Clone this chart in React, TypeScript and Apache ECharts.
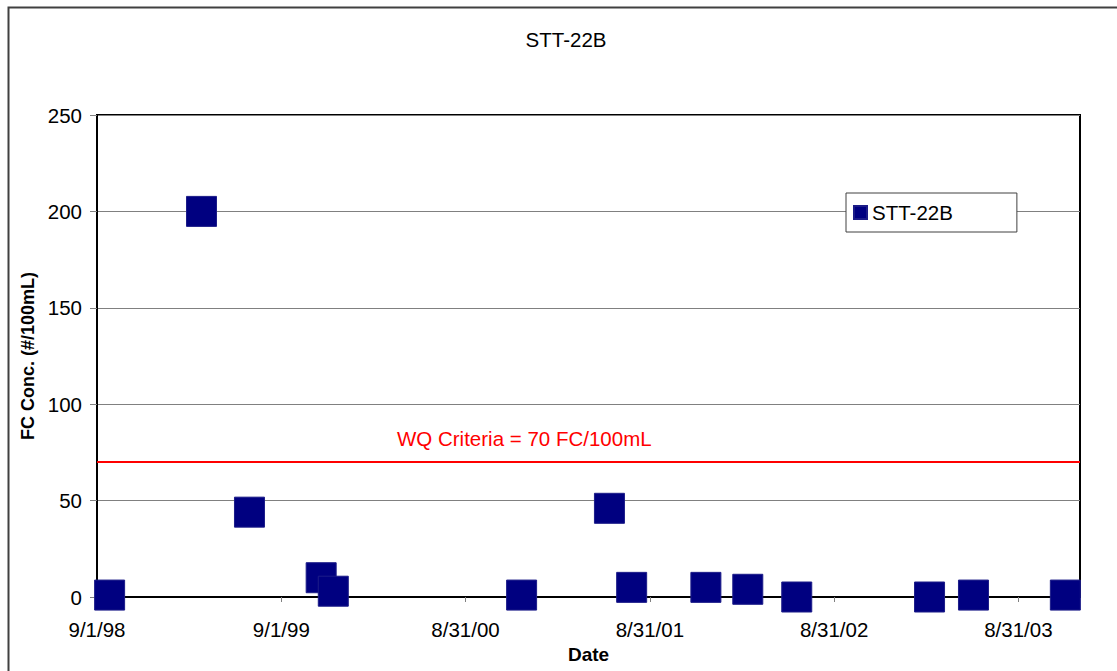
import React, { useEffect, useRef } from "react";
import * as echarts from "echarts";

const seriesName = "STT-22B";
const sampleDates = [
  "1998-09-26", "1999-03-27", "1999-06-30", "1999-11-19", "1999-12-13",
  "2000-12-20", "2001-06-12", "2001-07-26", "2001-12-20", "2002-03-13",
  "2002-06-18", "2003-03-08", "2003-06-03", "2003-12-02",
];
const fcValues = [1, 200, 44, 10, 3, 1, 46, 5, 5, 4, 0, 0, 1, 1];
const criteriaValue = 70;
const criteriaLabel = "WQ Criteria = 70 FC/100mL";
const axisStartDate = "1998-09-01";
const axisEndDate = "2003-12-31";
const tickStepDays = 365;
const yTicks = [0, 50, 100, 150, 200, 250];

const DAY = 86400000;
const toUTC = (s: string) => {
  const [y, m, d] = s.split("-").map(Number);
  return Date.UTC(y, m - 1, d);
};
const base = toUTC(axisStartDate);
const dayNum = (s: string) => Math.round((toUTC(s) - base) / DAY);
const fmt = (v: number) => {
  const d = new Date(base + v * DAY);
  return `${d.getUTCMonth() + 1}/${d.getUTCDate()}/${String(d.getUTCFullYear()).slice(2)}`;
};

const FONT = "'Liberation Sans', Arial, sans-serif";

export default function App() {
  const ref = useRef<HTMLDivElement>(null);
  useEffect(() => {
    if (!ref.current) return;
    const chart = echarts.init(ref.current, null, { renderer: "svg" });
    const data = sampleDates.map((d, i) => [dayNum(d), fcValues[i]]);
    chart.setOption({
      animation: false,
      backgroundColor: "#fff",
      textStyle: { fontFamily: FONT },
      title: {
        text: seriesName,
        left: 566,
        textAlign: "center",
        top: 29,
        padding: 0,
        textStyle: { fontSize: 20.5, fontWeight: "normal", color: "#000", fontFamily: FONT },
      },
      legend: {
        data: [seriesName],
        left: 846,
        top: 193,
        orient: "vertical",
        icon: "rect",
        itemWidth: 13,
        itemHeight: 13,
        itemGap: 8,
        padding: [9, 64, 9, 7],
        backgroundColor: "#fff",
        borderColor: "#404040",
        borderWidth: 1,
        borderRadius: 0,
        textStyle: { fontSize: 20.5, color: "#000", fontFamily: FONT },
      },
      grid: {
        left: 97,
        right: 37,
        top: 115,
        bottom: 74,
        show: true,
        borderColor: "#000",
        borderWidth: 2,
        backgroundColor: "transparent",
      },
      xAxis: {
        type: "value",
        min: 0,
        max: dayNum(axisEndDate),
        interval: tickStepDays,
        name: "Date",
        nameLocation: "middle",
        nameGap: 43,
        nameTextStyle: { fontSize: 19, fontWeight: "bold", color: "#000", fontFamily: FONT },
        axisLine: { lineStyle: { color: "#000", width: 2 } },
        axisTick: { show: true, length: 5, lineStyle: { color: "#808080", width: 1 } },
        axisLabel: {
          formatter: fmt,
          fontSize: 20.5,
          color: "#000",
          margin: 22,
          showMaxLabel: false,
          fontFamily: FONT,
        },
        splitLine: { show: false },
      },
      yAxis: {
        type: "value",
        min: yTicks[0],
        max: yTicks[yTicks.length - 1],
        interval: yTicks[1] - yTicks[0],
        name: "FC Conc. (#/100mL)",
        nameLocation: "middle",
        nameGap: 60,
        nameRotate: 90,
        nameTextStyle: { fontSize: 18, fontWeight: "bold", color: "#000", fontFamily: FONT },
        axisLine: { show: true, lineStyle: { color: "#000", width: 2 } },
        axisTick: { show: true, length: 7, lineStyle: { color: "#808080", width: 1 } },
        axisLabel: { fontSize: 20.5, color: "#000", margin: 15, fontFamily: FONT },
        splitLine: { show: true, lineStyle: { color: "#808080", width: 1 } },
      },
      series: [
        {
          name: seriesName,
          type: "scatter",
          symbol: "rect",
          symbolSize: 30,
          itemStyle: { color: "#000080", borderColor: "#1c1c88", borderWidth: 1, opacity: 1 },
          emphasis: { disabled: true },
          data,
          markLine: {
            silent: true,
            symbol: "none",
            label: { show: false },
            lineStyle: { color: "#ff0000", width: 2, type: "solid", opacity: 1 },
            data: [{ yAxis: criteriaValue }],
          },
          z: 3,
        },
      ],
      graphic: [
        {
          type: "rect",
          shape: { x: 8.5, y: 7.5, width: 1200, height: 700 },
          style: { fill: "none", stroke: "#404040", lineWidth: 2 },
          silent: true,
          z: 100,
        },
        {
          type: "text",
          x: 397,
          y: 438,
          style: {
            text: criteriaLabel,
            fill: "#ff0000",
            font: `20.5px ${FONT}`,
            textVerticalAlign: "middle",
          },
          silent: true,
        },
      ],
    });
    return () => chart.dispose();
  }, []);
  return (
    <div
      ref={ref}
      style={{ position: "absolute", left: 0, top: 0, width: 1117, height: 671 }}
    />
  );
}
